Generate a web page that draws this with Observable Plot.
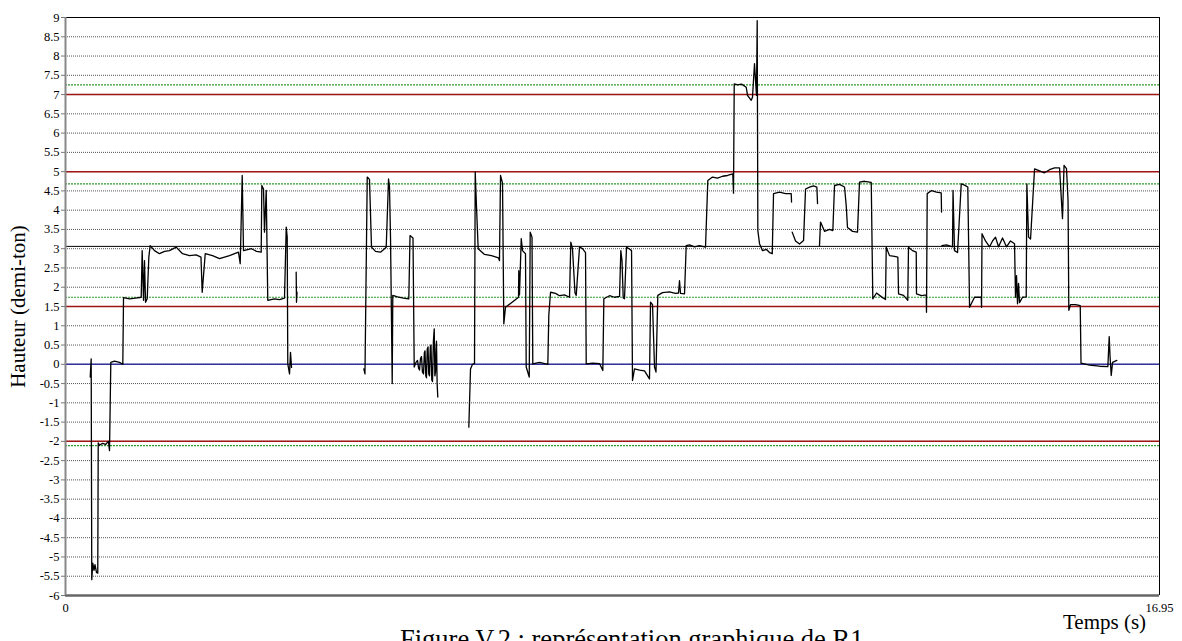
<!DOCTYPE html>
<html><head><meta charset="utf-8">
<script src="https://cdn.jsdelivr.net/npm/d3@7"></script>
<script src="https://cdn.jsdelivr.net/npm/@observablehq/plot@0.6"></script>
<style>
body{margin:0;background:#fff;position:relative;width:1182px;height:641px;overflow:hidden;font-family:"Liberation Serif","Times New Roman",serif;}
#caption{position:absolute;left:400px;top:626px;font-size:26.5px;line-height:27px;white-space:nowrap;color:#000;}
</style></head><body>
<div id="chart"></div>
<div id="caption">Figure V.2 : représentation graphique de R1</div>
<script>
// Tick labels
const xTicks = [0, 16.95];
const yTicks = [-6,-5.5,-5,-4.5,-4,-3.5,-3,-2.5,-2,-1.5,-1,-0.5,0,0.5,1,1.5,2,2.5,3,3.5,4,4.5,5,5.5,6,6.5,7,7.5,8,8.5,9];

// Reference levels (demi-ton)
const redLevels = [7, 5, 1.5, -2];
const greenLevels = [7.25, 4.68, 1.74, -2.11];
const blueLevels = [0];
const blackLevels = [3.06];

// Pitch track segments: [time (s), hauteur (demi-ton)]
const segment1 = [[0.383,-0.33],[0.398,0.14],[0.407,-5.59],[0.423,-5.16],[0.442,-5.35],[0.457,-5.2],[0.480,-5.4],[0.500,-5.42],[0.507,-2.04],[0.527,-2.1],[0.573,-2.05],[0.620,-2.08],[0.666,-2.0],[0.682,-2.24],[0.702,0.05],[0.759,0.08],[0.837,0.05],[0.888,0.0],[0.899,1.73],[0.992,1.7],[1.085,1.72],[1.173,1.74],[1.188,2.95],[1.209,1.66],[1.224,2.69],[1.240,1.61],[1.266,1.7],[1.291,2.78],[1.312,3.08],[1.379,2.95],[1.456,2.87],[1.534,2.93],[1.611,2.95],[1.715,3.04],[1.813,2.87],[1.921,2.82],[2.025,2.84],[2.099,2.78],[2.118,1.87],[2.165,2.87],[2.278,2.82],[2.386,2.74],[2.541,2.82],[2.680,2.91],[2.707,2.61],[2.738,4.9],[2.758,2.95],[2.882,3.0],[2.959,2.93],[3.032,2.91],[3.042,4.64],[3.068,4.55],[3.083,3.43],[3.110,4.51],[3.134,1.66],[3.238,1.7],[3.316,1.68],[3.393,1.72],[3.420,3.56],[3.435,3.3],[3.444,0.01],[3.471,-0.25],[3.486,0.31],[3.502,-0.08]];
const segment2 = [[3.574,2.39],[3.579,1.61],[3.587,1.87]];
const segment3 = [[4.622,-0.12],[4.640,-0.25],[4.675,4.86],[4.710,4.8],[4.741,3.04],[4.803,2.93],[4.881,2.91],[4.969,3.04],[5.005,4.81],[5.020,4.6],[5.036,3.26],[5.062,-0.5],[5.071,1.79],[5.144,1.75],[5.237,1.72],[5.319,1.7],[5.338,3.34],[5.384,3.28],[5.403,-0.07],[5.430,0.05],[5.454,0.1],[5.470,-0.1],[5.485,-0.15],[5.500,0.15],[5.516,0.2],[5.530,-0.2],[5.547,-0.25],[5.560,0.3],[5.570,0.35],[5.582,-0.3],[5.593,-0.35],[5.605,0.4],[5.617,0.45],[5.628,-0.25],[5.640,-0.3],[5.652,0.45],[5.663,0.5],[5.675,-0.4],[5.686,-0.45],[5.700,0.6],[5.713,0.92],[5.723,-0.3],[5.733,-0.2],[5.741,0.4],[5.748,0.6],[5.758,-0.5],[5.768,-0.85]];
const segment4 = [[6.249,-1.63],[6.275,-0.12],[6.306,0.0],[6.337,0.02],[6.348,4.99],[6.368,4.08],[6.394,3.0],[6.492,2.85],[6.600,2.82],[6.709,2.76],[6.724,2.69],[6.740,4.9],[6.771,4.7],[6.791,1.05],[6.817,1.48],[6.910,1.6],[7.019,1.74],[7.023,2.43],[7.034,1.8],[7.061,3.26],[7.081,2.95],[7.127,2.87],[7.138,-0.07],[7.185,-0.33],[7.200,3.43],[7.228,3.3],[7.240,0.01],[7.344,0.05],[7.473,0.0],[7.488,1.27],[7.515,1.87],[7.592,1.84],[7.654,1.78],[7.731,1.8],[7.809,1.74],[7.829,3.17],[7.855,3.0],[7.894,1.85],[7.913,1.79],[7.964,3.04],[8.010,3.0],[8.057,2.9],[8.068,0.01],[8.165,0.03],[8.274,0.02],[8.325,-0.16],[8.341,1.7],[8.429,1.78],[8.506,1.74],[8.584,1.76],[8.604,2.95],[8.622,2.7],[8.641,1.72],[8.661,1.7],[8.692,3.04],[8.731,3.0],[8.770,2.95],[8.785,-0.42],[8.816,-0.12],[8.894,-0.15],[8.971,-0.17],[9.048,-0.38],[9.064,1.61],[9.095,1.55],[9.126,-0.07],[9.149,-0.2],[9.177,1.79],[9.250,1.86],[9.358,1.88],[9.451,1.84],[9.498,1.85],[9.513,2.17],[9.529,1.84],[9.591,1.83],[9.617,3.08],[9.668,3.1],[9.746,3.05],[9.823,3.08],[9.916,3.04],[9.952,4.77],[10.025,4.86],[10.102,4.83],[10.180,4.88],[10.257,4.9],[10.339,4.94],[10.350,4.44],[10.361,7.28],[10.412,7.25],[10.474,7.27],[10.547,7.19],[10.567,6.98],[10.624,6.85],[10.644,6.93],[10.675,7.8],[10.706,6.98],[10.717,8.92],[10.727,3.47],[10.753,3.13],[10.799,2.95],[10.861,2.98],[10.908,2.9],[10.950,2.87],[10.970,4.43],[11.063,4.47],[11.156,4.43],[11.244,4.43],[11.249,4.21]];
const segment5 = [[11.259,3.43],[11.311,3.2],[11.373,3.12],[11.435,3.21],[11.466,4.55],[11.528,4.6],[11.590,4.63],[11.641,4.6],[11.652,4.17]];
const segment6 = [[11.682,3.08],[11.698,3.69],[11.760,3.45],[11.838,3.5],[11.889,3.47],[11.915,4.64],[11.992,4.67],[12.070,4.6],[12.096,4.12],[12.116,3.55],[12.194,3.45],[12.271,3.43],[12.302,4.73],[12.380,4.75],[12.484,4.72],[12.508,1.7],[12.566,1.85],[12.643,1.75],[12.705,1.68],[12.716,3.04],[12.767,2.82],[12.845,2.8],[12.896,2.78],[12.907,1.83],[12.984,1.79],[13.050,1.66],[13.061,3.04],[13.123,2.95],[13.181,2.91],[13.185,1.83],[13.263,1.78],[13.336,1.8],[13.340,1.35],[13.351,4.43],[13.418,4.51],[13.495,4.47],[13.568,4.45],[13.573,3.95]];
const segment7 = [[13.578,3.08],[13.650,3.1],[13.743,3.05],[13.751,4.51],[13.774,2.95],[13.821,2.9],[13.878,4.68],[13.929,4.65],[13.980,4.6],[14.007,1.48],[14.084,1.74],[14.188,1.74],[14.193,1.48],[14.200,3.39],[14.254,3.2],[14.317,3.05],[14.363,3.2],[14.409,3.3],[14.456,3.05],[14.518,3.28],[14.579,3.05],[14.642,3.2],[14.704,3.13],[14.719,1.74],[14.735,2.3],[14.750,1.57],[14.766,2.1],[14.781,1.6],[14.828,1.74],[14.885,1.75],[14.895,4.68],[14.921,3.3],[14.952,3.25],[15.014,5.07],[15.091,5.02],[15.168,4.97],[15.246,5.05],[15.324,5.1],[15.401,5.1],[15.447,3.78],[15.471,5.16],[15.509,5.08],[15.533,4.25],[15.545,1.4],[15.571,1.55],[15.649,1.55],[15.722,1.52],[15.734,0.03],[15.866,-0.02],[16.021,-0.05],[16.150,-0.06],[16.171,0.72],[16.184,0.2],[16.202,-0.29],[16.223,0.05],[16.289,0.1]];

const segments = [segment1, segment2, segment3, segment4, segment5, segment6, segment7];
const rows = segments.flatMap((s, k) => s.map(([t, v]) => ({t, v, seg: k})));

const serif = "'Liberation Serif','Times New Roman',serif";
const chart = Plot.plot({
  width: 1182, height: 641,
  marginTop: 17, marginLeft: 65, marginRight: 23, marginBottom: 46,
  style: {fontFamily: serif, fontSize: "12px", background: "white", color: "black"},
  x: {domain: [0, 16.95]},
  y: {domain: [-6, 9]},
  marks: [
    Plot.ruleY(yTicks, {stroke: "#555", strokeDasharray: "1,1"}),
    Plot.ruleY(greenLevels, {stroke: "#2e9b2e", strokeDasharray: "2,1", strokeWidth: 1.2}),
    Plot.ruleY(redLevels, {stroke: "#a01414", strokeWidth: 1.5}),
    Plot.ruleY(blueLevels, {stroke: "#3333a0", strokeWidth: 1.5}),
    Plot.ruleY(blackLevels, {stroke: "#000", strokeWidth: 1}),
    Plot.ruleY([9], {stroke: "#000"}),
    Plot.ruleY([-6], {stroke: "#666", strokeWidth: 2.5}),
    Plot.ruleX([0], {stroke: "#888", strokeWidth: 2}),
    Plot.ruleX([16.95], {stroke: "#000"}),
    Plot.axisY(yTicks, {tickFormat: d => String(d), tickSize: 4, tickPadding: 2, stroke: "#777", fontFamily: serif, fontSize: 12.5, label: null}),
    Plot.axisX(xTicks, {tickFormat: d => String(d), tickSize: 0, tickPadding: 8, fontFamily: serif, fontSize: 12.5, label: null}),
    Plot.line(rows, {x: "t", y: "v", z: "seg", stroke: "#000", strokeWidth: 1.3}),
    Plot.text(["Hauteur (demi-ton)"], {text: d => d, frameAnchor: "left", textAnchor: "middle", dx: -47, rotate: -90, fontSize: 21, fontFamily: serif}),
    Plot.text(["Temps (s)"], {text: d => d, frameAnchor: "bottom-right", textAnchor: "middle", dx: -55, dy: 33, fontSize: 21, fontFamily: serif})
  ]
});
document.getElementById("chart").appendChild(chart);
</script></body></html>
